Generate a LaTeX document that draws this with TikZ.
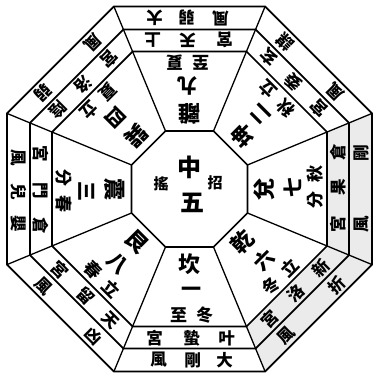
\documentclass[tikz,border=0pt]{standalone}
\usepackage{fontspec}
\newfontfamily\cjk{Noto Sans CJK TC}
\tikzset{
  octline/.style={line width=1.7pt, line join=miter},
  spoke/.style={line width=1.3pt},
  shade/.style={fill=gray!16, draw=none},
  trig/.style={inner sep=0pt, font=\cjk\bfseries\fontsize{22pt}{22pt}\selectfont},
  numb/.style={inner sep=0pt, font=\cjk\bfseries\fontsize{20pt}{20pt}\selectfont},
  term/.style={inner sep=0pt, font=\cjk\bfseries\fontsize{17pt}{17pt}\selectfont},
  ringtxt/.style={inner sep=0pt, font=\cjk\bfseries\fontsize{16.5pt}{16.5pt}\selectfont},
  bigc/.style={inner sep=0pt, font=\cjk\bfseries\fontsize{24pt}{24pt}\selectfont},
  smallc/.style={inner sep=0pt, font=\cjk\bfseries\fontsize{15pt}{15pt}\selectfont},
}
% #1 rotation, #2 id, #3 trigram, #4 number, #5 first term char, #6 second term char
\newcommand\sectinner[6]{%
  \begin{scope}[shift={(C)},rotate=#1,transform shape]
    \node[trig] (#2-tri) at (0,75) {#3};
    \node[numb] (#2-num) at (2,103) {#4};
    \node[term] (#2-t1) at (15,126) {#5};
    \node[term] (#2-t2) at (-11,126) {#6};
  \end{scope}}
\newcommand\sectpalace[5]{%
  \begin{scope}[shift={(C)},rotate=#1,transform shape]
    \node[ringtxt] (#2-p1) at (37,149) {#3};
    \node[ringtxt] (#2-p2) at (2,149) {#4};
    \node[ringtxt] (#2-p3) at (-35,149) {#5};
  \end{scope}}
\newcommand\windthree[5]{%
  \begin{scope}[shift={(C)},rotate=#1,transform shape]
    \node[ringtxt] (#2-w1) at (35,171) {#3};
    \node[ringtxt] (#2-w2) at (3,171) {#4};
    \node[ringtxt] (#2-w3) at (-31,171) {#5};
  \end{scope}}
\newcommand\windtwo[4]{%
  \begin{scope}[shift={(C)},rotate=#1,transform shape]
    \node[ringtxt] (#2-w1) at (36,172) {#3};
    \node[ringtxt] (#2-w2) at (-35,172) {#4};
  \end{scope}}
\newcommand\octpath[1]{(22.5:#1) -- (67.5:#1) -- (112.5:#1) -- (157.5:#1) -- (202.5:#1) -- (247.5:#1) -- (292.5:#1) -- (337.5:#1) -- cycle}
\begin{document}
\begin{tikzpicture}[x=1pt,y=-1pt]
\useasboundingbox (0,0) rectangle (374,377);
\coordinate (C) at (189.5,189);
% scan shading
\begin{scope}[shift={(C)}]
  \path[shade] (-22.5:148.83) -- (22.5:148.83) -- (22.5:197.54) -- (-22.5:197.54) -- cycle;
  \path[shade] (22.5:148.83) -- (67.5:148.83) -- (67.5:197.54) -- (22.5:197.54) -- cycle;
  % octagons
  \draw[octline] \octpath{62.78};
  \draw[octline] \octpath{148.83};
  \draw[octline] \octpath{172.64};
  \draw[octline] \octpath{197.54};
  % spokes
  \foreach \a in {22.5,67.5,...,337.5}
    \draw[spoke] (\a:62.78) -- (\a:197.54);
\end{scope}
% centre
\node[bigc] (zhong) at (189,167) {中};
\node[bigc] (wu) at (192,203) {五};
\node[smallc] (yao) at (161,184) {搖};
\node[smallc] (zhao) at (215,183) {招};
% sectors
\sectinner{0}{N}{坎}{一}{冬}{至}
\sectpalace{0}{N}{叶}{蟄}{宮}
\windthree{0}{N}{大}{剛}{風}
\sectinner{-45}{NE}{艮}{八}{立}{春}
\sectpalace{-45}{NE}{天}{留}{宮}
\windtwo{-45}{NE}{凶}{風}
\sectinner{-90}{E}{震}{三}{春}{分}
\sectpalace{-90}{E}{倉}{門}{宮}
\windthree{-90}{E}{嬰}{兒}{風}
\sectinner{-135}{SE}{巽}{四}{立}{夏}
\sectpalace{-135}{SE}{陰}{洛}{宮}
\windtwo{-135}{SE}{弱}{風}
\sectinner{180}{S}{離}{九}{夏}{至}
\sectpalace{180}{S}{上}{天}{宮}
\windthree{180}{S}{大}{弱}{風}
\sectinner{135}{SW}{坤}{二}{立}{秋}
\sectpalace{135}{SW}{玄}{委}{宮}
\windtwo{135}{SW}{謀}{風}
\sectinner{90}{W}{兌}{七}{秋}{分}
\sectpalace{90}{W}{倉}{果}{宮}
\windtwo{90}{W}{剛}{風}
\sectinner{45}{NW}{乾}{六}{立}{冬}
\sectpalace{45}{NW}{新}{洛}{宮}
\windtwo{45}{NW}{折}{風}
\end{tikzpicture}
\end{document}
